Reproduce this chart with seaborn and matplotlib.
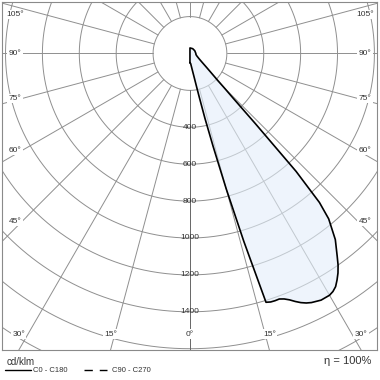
import numpy as np
import pandas as pd
import matplotlib
matplotlib.use("Agg")
import matplotlib.pyplot as plt
import seaborn as sns

# ---- data (cd/klm) ----
gamma_c0 = [0, 4, 8, 10, 11, 12, 13, 14, 15, 16, 17, 18, 19, 20, 21, 22, 23, 24, 25, 26,
            28, 30, 31, 32, 33, 34, 35, 36, 38, 40, 41, 42, 43, 44, 45, 46, 48, 50, 55,
            60, 70, 80, 90, 120, 150, 180]
int_c0 = [50, 55, 90, 130, 170, 240, 360, 520, 760, 1060, 1410, 1416, 1417, 1416, 1425,
          1440, 1460, 1478, 1492, 1502, 1514, 1513, 1505, 1490, 1464, 1435, 1400, 1358,
          1280, 1170, 1070, 860, 520, 340, 260, 205, 150, 118, 76, 57, 40, 33, 32, 30, 30, 30]
gamma_c180 = [180, 90, 0]
int_c180 = [0, 0, 0]

ring_values = [200, 400, 600, 800, 1000, 1200, 1400, 1600, 1800, 2000]
ring_labels = ["400", "600", "800", "1000", "1200", "1400"]
angle_labels = [0, 15, 30, 45, 60, 75, 90, 105]
eta_text = "\u03b7 = 100%"
unit_text = "cd/klm"
legend_labels = ["C0 - C180", "C90 - C270"]

sns.set_theme(style="white")
plt.rcParams["font.family"] = ["Liberation Sans", "DejaVu Sans"]

fig = plt.figure(figsize=(3.8, 3.8), dpi=100)
ax = fig.add_axes([2 / 380, 30 / 380, 375 / 380, 348 / 380])
XL, XR, YB, YT = -1019, 1014, -1607, 279
ax.set_xlim(XL, XR)
ax.set_ylim(YB, YT)
ax.set_xticks([])
ax.set_yticks([])
for s in ax.spines.values():
    s.set_color("#8a8a8a")
    s.set_linewidth(0.8)

gridc = "#8f8f8f"
# rings
t = np.linspace(0, 2 * np.pi, 721)
for rv in ring_values:
    ax.plot(rv * np.sin(t), rv * np.cos(t), color=gridc, lw=0.7, zorder=1)
# radial lines every 15 deg starting at inner ring
for a in range(0, 360, 15):
    ar = np.deg2rad(a)
    col = "#666666" if a == 0 else gridc
    ax.plot([200 * np.sin(ar), 3000 * np.sin(ar)], [-200 * np.cos(ar), -3000 * np.cos(ar)],
            color=col, lw=0.7, zorder=1)

# ring labels on the 0 deg axis
for lab in ring_labels:
    ax.text(0, -float(lab), lab, ha="center", va="center", fontsize=6, color="#333333", zorder=3)

# angle labels
px = 0.1845
side_x = 175 / px
bottom_y = -(334 - 53.5) / px
top_y = (53.5 - 14.5) / px
for a in angle_labels:
    ar = np.deg2rad(a)
    for sgn in (-1, 1):
        if a == 0 and sgn == 1:
            continue
        sx, sy = sgn * np.sin(ar), -np.cos(ar)
        if a <= 30:
            x = 0 if a == 0 else sgn * abs(YB / sy * sx)
            y = bottom_y
        else:
            tt = side_x / abs(sx)
            x = sgn * side_x
            y = min(tt * sy * 0.96, top_y)
        ax.text(x, y, f"{a}\u00b0", ha="center", va="center", fontsize=6, color="#333333",
                zorder=3, bbox=dict(boxstyle="square,pad=0.15", fc="white", ec="none"))

# curve
g = np.concatenate([np.deg2rad(gamma_c0), np.deg2rad(gamma_c180)])
side = np.concatenate([np.ones(len(gamma_c0)), -np.ones(len(gamma_c180))])
I = np.concatenate([int_c0, int_c180]).astype(float)
df = pd.DataFrame({"x": side * I * np.sin(g), "y": -I * np.cos(g)})
df = pd.concat([df, df.iloc[[0]]], ignore_index=True)
ax.fill(df["x"], df["y"], color="#e3eefa", alpha=0.6, zorder=2, lw=0)
sns.lineplot(data=df, x="x", y="y", sort=False, estimator=None, color="black", lw=1.2,
             ax=ax, zorder=4)
ax.set_xlabel("")
ax.set_ylabel("")

# footer
fig.text(7 / 380, 1 - 362 / 380, unit_text, fontsize=7, color="#333333", va="center")
fig.add_artist(plt.Line2D([5 / 380, 31 / 380], [1 - 370 / 380] * 2, color="black", lw=1.0))
fig.text(33 / 380, 1 - 370.5 / 380, legend_labels[0], fontsize=5.5, color="#333333", va="center")
fig.add_artist(plt.Line2D([84 / 380, 107 / 380], [1 - 370 / 380] * 2, color="black", lw=1.0,
                          dashes=(6, 5)))
fig.text(112 / 380, 1 - 370.5 / 380, legend_labels[1], fontsize=5.5, color="#333333", va="center")
fig.text(371 / 380, 1 - 361 / 380, eta_text, fontsize=8, color="#333333", va="center", ha="right")

fig.savefig("out.png", dpi=100)
